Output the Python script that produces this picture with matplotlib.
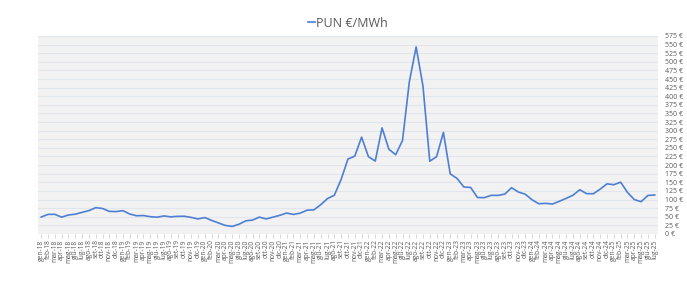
import matplotlib.pyplot as plt
import numpy as np

plt.rcParams['font.family'] = ['Open Sans', 'DejaVu Sans']

# mesi in italiano per le etichette
months = ['gen', 'feb', 'mar', 'apr', 'mag', 'giu',
          'lug', 'ago', 'set', 'ott', 'nov', 'dic']
years = [18, 19, 20, 21, 22, 23, 24, 25]

pun_2018 = [49.0, 56.8, 56.9, 48.8, 55.1, 57.3, 62.7, 67.7, 76.3, 73.9, 65.5, 65.0]
pun_2019 = [67.6, 57.7, 52.8, 53.4, 50.1, 48.6, 52.3, 49.6, 51.1, 51.3, 48.0, 43.6]
pun_2020 = [47.5, 39.3, 32.0, 24.8, 21.8, 28.0, 38.0, 40.3, 48.8, 43.6, 48.7, 54.1]
pun_2021 = [60.7, 56.6, 60.4, 69.0, 69.9, 84.8, 102.7, 112.4, 158.6, 217.6, 226.0, 281.2]
pun_2022 = [224.5, 211.7, 308.1, 246.0, 230.1, 271.3, 441.7, 543.2, 429.9, 211.2, 224.5, 294.9]
pun_2023 = [174.5, 161.1, 136.4, 135.0, 105.7, 105.3, 112.1, 111.9, 115.7, 134.3, 121.7, 115.5]
pun_2024 = [99.2, 87.6, 88.9, 86.8, 94.9, 103.2, 112.4, 128.4, 117.1, 116.7, 130.2, 145.5]
pun_2025 = [143.0, 150.4, 120.6, 99.9, 93.6, 111.8, 113.1]

pun = (pun_2018 + pun_2019 + pun_2020 + pun_2021 + pun_2022
       + pun_2023 + pun_2024 + pun_2025)
labels = [f'{m}-{y}' for y in years for m in months][:len(pun)]

fig = plt.figure(figsize=(6.87, 2.95), dpi=100)
ax = fig.add_axes([0.055, 0.207, 0.903, 0.671])
ax.set_facecolor('#f2f2f2')

x = np.arange(len(pun))
ax.plot(x, pun, color='#4f7fd3', linewidth=1.2, label='PUN €/MWh')

ax.set_xlim(-0.5, len(pun) - 0.5)
ax.set_ylim(0, 575)
ax.set_yticks(np.arange(0, 576, 25))
ax.set_yticklabels([f'{v} €' for v in range(0, 576, 25)])
ax.yaxis.tick_right()
ax.tick_params(axis='y', length=0, labelsize=5, labelcolor='#595959', pad=5)
ax.grid(axis='y', color='#e1e6ee', linewidth=0.8)
ax.set_axisbelow(True)

ax.set_xticks(x)
ax.set_xticklabels(labels, rotation=90, fontsize=4.8, color='#595959')
ax.tick_params(axis='x', length=3, color='#d9d9d9', pad=1)

for s in ax.spines.values():
    s.set_visible(False)

ax.legend(loc='lower center', bbox_to_anchor=(0.5, 1.0), frameon=False,
          fontsize=9, labelcolor='#595959', handlelength=0.6,
          handletextpad=0.1, borderaxespad=0.1)

plt.savefig('out.png', dpi=100)
